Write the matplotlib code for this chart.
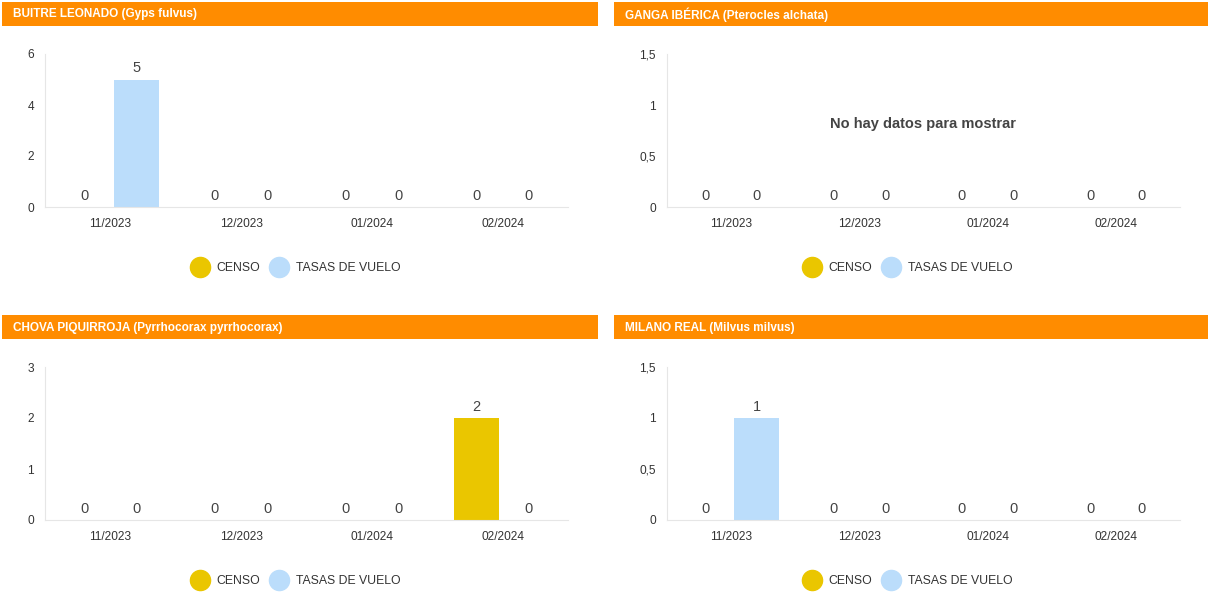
import matplotlib
matplotlib.use("Agg")
import matplotlib.pyplot as plt
from matplotlib.patches import Rectangle
from matplotlib.lines import Line2D
import numpy as np

plt.rcParams['font.family'] = ['Liberation Sans', 'DejaVu Sans']

W, H = 1208, 594

categories = ['11/2023', '12/2023', '01/2024', '02/2024']
titles = ['BUITRE LEONADO (Gyps fulvus)', 'GANGA IBÉRICA (Pterocles alchata)',
          'CHOVA PIQUIRROJA (Pyrrhocorax pyrrhocorax)', 'MILANO REAL (Milvus milvus)']
censo = [[0, 0, 0, 0], [0, 0, 0, 0], [0, 0, 0, 2], [0, 0, 0, 0]]
tasas = [[5, 0, 0, 0], [0, 0, 0, 0], [0, 0, 0, 0], [1, 0, 0, 0]]
yticks = [[0, 2, 4, 6], [0, 0.5, 1, 1.5], [0, 1, 2, 3], [0, 0.5, 1, 1.5]]
ytick_labels = [['0', '2', '4', '6'], ['0', '0,5', '1', '1,5'],
                ['0', '1', '2', '3'], ['0', '0,5', '1', '1,5']]
no_data = [False, True, False, False]

c_censo = '#EAC600'
c_tasas = '#BBDDFB'
orange = '#FF8C00'

def box(x0, y0, x1, y1):
    return [x0 / W, 1 - y1 / H, (x1 - x0) / W, (y1 - y0) / H]

fig = plt.figure(figsize=(W / 100, H / 100), dpi=100)

headers = [(2, 2, 598, 26), (614, 2, 1208, 26), (2, 315, 598, 339), (614, 315, 1208, 339)]
axes_px = [(45, 54, 568, 207), (667, 54, 1180, 207), (45, 367, 568, 520), (667, 367, 1180, 520)]
legend_cx = [294, 906, 294, 906]

for i in range(4):
    hx0, hy0, hx1, hy1 = headers[i]
    b = box(hx0, hy0, hx1, hy1)
    fig.patches.append(Rectangle((b[0], b[1]), b[2], b[3], transform=fig.transFigure,
                                 facecolor=orange, edgecolor='none'))
    fig.text((hx0 + 11) / W, 1 - ((hy0 + hy1) / 2 + 0.5) / H, titles[i], color='white',
             fontsize=8.5, fontweight='bold', va='center', ha='left')

    ax = fig.add_axes(box(*axes_px[i]))
    x = np.arange(len(categories))
    ax.bar(x - 0.2, censo[i], width=0.35, color=c_censo)
    ax.bar(x + 0.2, tasas[i], width=0.35, color=c_tasas)
    ymax = yticks[i][-1]
    for xi, v in zip(x - 0.2, censo[i]):
        ax.text(xi, v + ymax * 0.028, str(v), ha='center', va='bottom', fontsize=10.5, color='#444444')
    for xi, v in zip(x + 0.2, tasas[i]):
        ax.text(xi, v + ymax * 0.028, str(v), ha='center', va='bottom', fontsize=10.5, color='#444444')
    ax.set_xlim(-0.5, 3.5)
    ax.set_ylim(0, ymax)
    ax.set_xticks(x)
    ax.set_xticklabels(categories)
    ax.set_yticks(yticks[i])
    ax.set_yticklabels(ytick_labels[i])
    ax.tick_params(length=0, labelsize=8.6, colors='#333333', pad=8)
    for s in ['top', 'right']:
        ax.spines[s].set_visible(False)
    ax.spines['left'].set_color('#E6E6E6')
    ax.spines['bottom'].set_color('#E6E6E6')
    if no_data[i]:
        ax.text(0.5, 0.54, 'No hay datos para mostrar', transform=ax.transAxes,
                ha='center', va='center', fontsize=10.5, fontweight='bold', color='#444444')

    handles = [Line2D([], [], marker='o', linestyle='none', markersize=14.5,
                      markerfacecolor=c_censo, markeredgecolor=c_censo),
               Line2D([], [], marker='o', linestyle='none', markersize=14.5,
                      markerfacecolor=c_tasas, markeredgecolor=c_tasas)]
    cy = axes_px[i][3] + 61
    fig.legend(handles, ['CENSO', 'TASAS DE VUELO'], loc='center',
               bbox_to_anchor=(legend_cx[i] / W, 1 - cy / H), ncol=2, frameon=False,
               fontsize=8.8, handletextpad=0.4, columnspacing=0.5,
               labelcolor='#333333')

fig.savefig('out.png', dpi=100)
